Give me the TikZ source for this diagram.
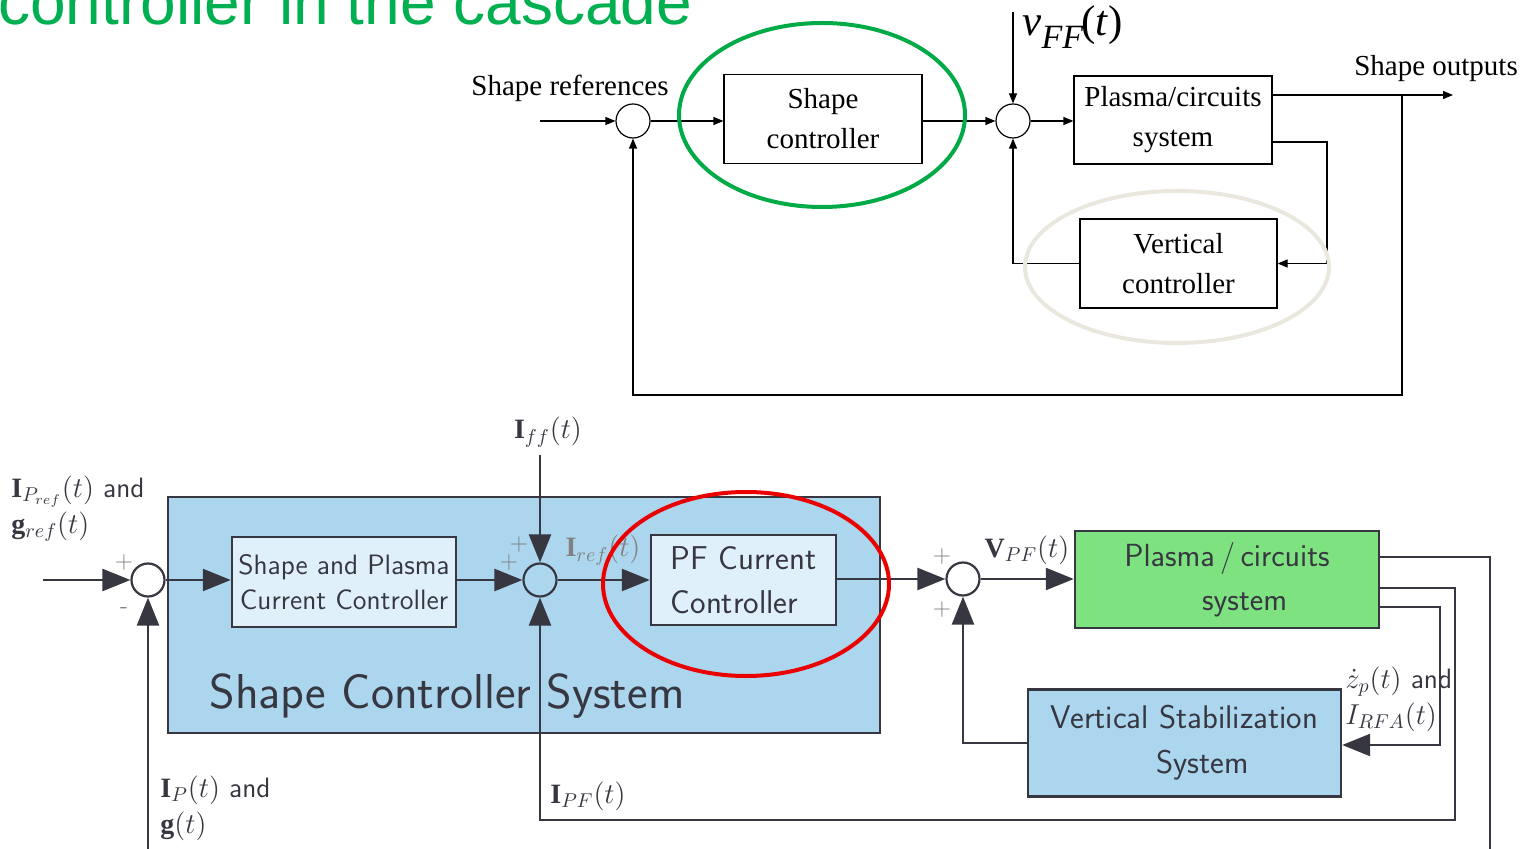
\documentclass[tikz,border=0pt]{standalone}
\usepackage{fontspec}
\setmainfont{Liberation Serif}
\newfontfamily\arialf{Liberation Sans}
\usetikzlibrary{arrows.meta}
\definecolor{ttlgreen}{RGB}{0,176,80}
\definecolor{ellgreen}{RGB}{0,170,70}
\definecolor{ellbeige}{RGB}{234,232,222}
\definecolor{bgblue}{RGB}{172,213,238}
\definecolor{ltblue}{RGB}{224,240,250}
\definecolor{plgreen}{RGB}{126,226,128}
\definecolor{dline}{RGB}{55,55,65}
\definecolor{ellred}{RGB}{235,0,0}
\begin{document}
\begin{tikzpicture}[x=0.5pt,y=-0.5pt,
  ttext/.style={font=\fontsize{14.5}{20}\selectfont},
  tbox/.style={draw=black,line width=0.6pt,align=center,inner sep=0pt,font=\fontsize{14.5}{20}\selectfont},
  tsum/.style={draw=black,line width=0.6pt,circle,minimum size=17pt,inner sep=0pt},
  tline/.style={draw=black,line width=0.6pt},
  tarrow/.style={tline,-{Triangle[length=5pt,width=4pt]}},
  bbox/.style={draw=dline,line width=1.2pt,align=center,inner sep=0pt},
  bsum/.style={draw=dline,line width=1.1pt,circle,minimum size=16.5pt,inner sep=0pt,fill=white},
  bline/.style={draw=dline,line width=1.2pt},
  barrow/.style={bline,-{Triangle[length=14pt,width=11pt]}},
  blabel/.style={text=dline,font=\sffamily\fontsize{14}{18}\selectfont,align=left,inner sep=0pt},
  pluslab/.style={text=gray,font=\sffamily\fontsize{12}{12}\selectfont,inner sep=0pt}
]
\useasboundingbox (0,0) rectangle (1530,849);
% title
\node[anchor=base west,inner sep=0pt,text=ttlgreen,font=\arialf\fontsize{32}{32}\selectfont] (title) at (-2,25) {controller in the cascade};

% ---------------- top diagram ----------------
\node[tsum] (s1) at (633,121) {};
\node[tbox,minimum width=99pt,minimum height=44.5pt] (sc) at (823,119) {Shape\\controller};
\node[tsum] (s2) at (1013,121) {};
\node[tbox,minimum width=99pt,minimum height=44pt] (pl) at (1173,120) {Plasma/circuits\\system};
\node[tbox,minimum width=98.5pt,minimum height=44.5pt] (vc) at (1178.5,263.5) {Vertical\\controller};
\node[ttext,inner sep=0pt] (sref) at (570,88) {Shape references};
\node[ttext,inner sep=0pt] (sout) at (1436,69) {Shape outputs};
\node[anchor=west,inner sep=0pt,font=\fontsize{21.5}{21.5}\selectfont] (vffl) at (1022,27) {\textit{v}\raisebox{-0.32em}{\fontsize{17}{17}\selectfont\textit{FF}}\kern-0.05em(\textit{t})};

\coordinate (in1) at (540,121);
\coordinate (vff) at (1013,12);
\coordinate (out) at (1453,95);
\coordinate (br) at (1402,95);
\coordinate (fbb) at (1402,395);
\coordinate (o2) at (1327,142);
\coordinate (o2b) at (1327,263.5);

\draw[tarrow] (in1) -- (s1);
\draw[tarrow] (s1) -- (sc.west |- s1);
\draw[tarrow] (sc.east |- s2) -- (s2);
\draw[tarrow] (vff) -- (s2);
\draw[tarrow] (s2) -- (pl.west |- s2);
\draw[tarrow] (pl.east |- out) -- (out);
\draw[tarrow] (br) -- (fbb) -| (s1.south);
\draw[tarrow] (pl.east |- o2) -- (o2) -- (o2b) -- (vc.east);
\draw[tarrow] (vc.west) -| (s2.south);

\draw[ellgreen,line width=2pt] (822,115) ellipse [x radius=71.5pt,y radius=46pt];
\draw[ellbeige,line width=2pt] (1177,267) ellipse [x radius=76pt,y radius=38pt];

% ---------------- bottom diagram ----------------
\node[bbox,fill=bgblue,minimum width=356pt,minimum height=118pt] (scs) at (524,615) {};
\node[text=dline,inner sep=0pt,font=\sffamily\fontsize{24.5}{24.5}\selectfont] (scsl) at (447,696) {Shape Controller System};

\node[bsum] (s3) at (148,580) {};
\node[bbox,fill=ltblue,minimum width=112pt,minimum height=45pt,font=\sffamily\fontsize{14}{17.5}\selectfont,text=dline] (spcc) at (344,582) {Shape and Plasma\\Current Controller};
\node[bsum,fill=bgblue] (s4) at (540,580) {};
\node[bbox,fill=ltblue,minimum width=92.5pt,minimum height=45pt,font=\sffamily\fontsize{16.5}{22}\selectfont,text=dline,align=left] (pf) at (743.5,580) {PF Current\\Controller};
\node[bsum] (s5) at (963,579) {};
\node[bbox,fill=plgreen,minimum width=152pt,minimum height=48.5pt,font=\sffamily\fontsize{16}{22}\selectfont,text=dline] (pl2) at (1227,579.5) {\raisebox{-2pt}{Plasma\,/\,circuits}\\\raisebox{-2pt}{\hspace*{1.1em}system}};
\node[bbox,fill=bgblue,minimum width=156.5pt,minimum height=53.5pt,font=\sffamily\fontsize{16.4}{22.5}\selectfont,text=dline] (vss) at (1184.5,743) {Vertical Stabilization\\\hspace*{1.1em}System};

% labels
\node[blabel,anchor=north west] (lref) at (11,475) {$\mathbf{I}_{P_{ref}}(t)$ and\\$\mathbf{g}_{ref}(t)$};
\node[blabel] (lff) at (548,432) {$\mathbf{I}_{ff}(t)$};
\node[blabel,text=gray] (liref) at (603,550) {$\mathbf{I}_{ref}(t)$};
\node[blabel] (lvpf) at (1027,550) {$\mathbf{V}_{PF}(t)$};
\node[blabel,anchor=north west] (lzp) at (1345,666) {$\dot{z}_p(t)$ and\\$I_{RFA}(t)$};
\node[blabel,anchor=north west] (lip) at (160,775) {$\mathbf{I}_{P}(t)$ and\\$\mathbf{g}(t)$};
\node[blabel] (lipf) at (588,796) {$\mathbf{I}_{PF}(t)$};
\node[pluslab] (p1) at (124,563) {+};
\node[pluslab] (m1) at (124,610) {-};
\node[pluslab] (p2) at (519,545) {+};
\node[pluslab] (p3) at (509,563) {+};
\node[pluslab] (p4) at (942,557) {+};
\node[pluslab] (p5) at (942,610) {+};

\coordinate (in3) at (43,580);
\coordinate (iff) at (540,455);
\coordinate (oa) at (1490,557);
\coordinate (oab) at (1490,849);
\coordinate (fbp) at (148,849);
\coordinate (ob) at (1455,588);
\coordinate (obb) at (1455,820);
\coordinate (oc) at (1440,607);
\coordinate (ocb) at (1440,745);

\draw[barrow] (in3) -- (s3);
\draw[barrow] (s3) -- (spcc.west |- s3);
\draw[barrow] (spcc.east |- s4) -- (s4);
\draw[barrow] (iff) -- (s4);
\draw[barrow] (s4) -- (pf.west |- s4);
\draw[barrow] (pf.east |- s5) -- (s5);
\draw[barrow] (s5) -- (pl2.west |- s5);
\draw[bline] (pl2.east |- oa) -- (oa) -- (oab);
\draw[barrow] (fbp) -- (s3.south);
\draw[barrow] (pl2.east |- ob) -- (ob) -- (obb) -| (s4.south);
\draw[barrow] (pl2.east |- oc) -- (oc) -- (ocb) -- (vss.east |- ocb);
\draw[barrow] (vss.west) -| (s5.south);

\draw[ellred,line width=2pt] (746,584) ellipse [x radius=71.5pt,y radius=46pt];
\end{tikzpicture}
\end{document}
